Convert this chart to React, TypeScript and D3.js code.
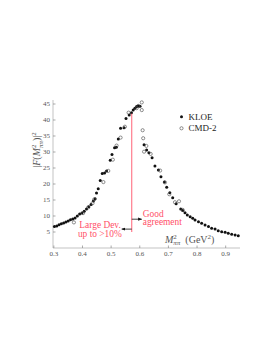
import * as d3 from "d3";
import React from "react";

// KLOE (filled)
const kloeX = [0.302, 0.310, 0.318, 0.326, 0.334, 0.342, 0.350, 0.358, 0.366, 0.374, 0.382, 0.390, 0.398, 0.406, 0.414, 0.422, 0.430, 0.438, 0.444, 0.449, 0.455, 0.462, 0.469, 0.477, 0.484, 0.497, 0.503, 0.512, 0.518, 0.525, 0.533, 0.545, 0.552, 0.563, 0.571, 0.577, 0.583, 0.589, 0.595, 0.601, 0.615, 0.624, 0.632, 0.643, 0.653, 0.665, 0.674, 0.686, 0.694, 0.705, 0.715, 0.727, 0.743, 0.750, 0.758, 0.766, 0.776, 0.785, 0.793, 0.805, 0.816, 0.828, 0.840, 0.851, 0.863, 0.874, 0.886, 0.898, 0.909, 0.921, 0.933, 0.944];
const kloeY = [6.7, 6.9, 7.3, 7.6, 7.8, 8.1, 8.4, 8.8, 9.1, 9.4, 10.0, 10.6, 10.9, 11.5, 12.2, 12.9, 13.6, 14.7, 15.4, 17.2, 18.5, 21.1, 23.3, 23.4, 24.1, 27.4, 29.2, 31.3, 31.5, 34.1, 37.4, 37.6, 40.5, 41.6, 42.3, 43.1, 43.7, 44.2, 44.4, 44.3, 32.3, 30.6, 29.8, 28.2, 25.6, 24.4, 22.3, 20.6, 19.0, 17.3, 15.7, 13.8, 12.2, 11.7, 11.0, 10.3, 9.8, 9.3, 8.75, 8.2, 7.7, 7.2, 6.7, 6.2, 5.9, 5.4, 5.1, 4.9, 4.6, 4.3, 4.1, 3.8];

// CMD-2 (open)
const cmdX = [0.370, 0.402, 0.420, 0.435, 0.441, 0.473, 0.490, 0.506, 0.519, 0.533, 0.548, 0.561, 0.589, 0.595, 0.607, 0.607, 0.610, 0.612, 0.615, 0.623, 0.638, 0.671, 0.688, 0.703, 0.723, 0.737, 0.750];
const cmdY = [8.0, 10.9, 12.7, 14.0, 15.2, 20.6, 24.1, 27.6, 32.0, 34.5, 37.9, 42.3, 43.7, 44.4, 45.5, 43.1, 36.8, 34.3, 30.1, 31.9, 29.4, 24.2, 20.5, 16.8, 14.3, 14.6, 11.9];

const xTicks = [0.3, 0.4, 0.5, 0.6, 0.7, 0.8, 0.9];
const yTicks = [5, 10, 15, 20, 25, 30, 35, 40, 45];

// annotation in data units
const splitX = 0.572;
const splitTop = 42;
const splitBottom = 5;
const goodArrowY = 9.0;
const badArrowY = 5.9;

const W = 273;
const H = 353;
const serif = "'Liberation Serif', 'Times New Roman', serif";
const red = "#ff5068";

export default function App() {
  const x = d3.scaleLinear().domain([0.297, 0.95]).range([53, 240]);
  const y = d3.scaleLinear().domain([0, 46.25]).range([248, 100]);
  const kloe = kloeX.map((v, i) => [v, kloeY[i]]);
  const cmd = cmdX.map((v, i) => [v, cmdY[i]]);
  const fmt = d3.format(".1f");

  return (
    <svg width={W} height={H} style={{ position: "absolute", left: 0, top: 0, background: "#fff" }} fontFamily={serif}>
      <defs>
        <marker id="ah" viewBox="0 0 10 10" refX="9" refY="5" markerWidth="5" markerHeight="5" orient="auto">
          <path d="M0,1 L10,5 L0,9 z" fill="#111" />
        </marker>
      </defs>

      {/* axes */}
      <line x1={x.range()[0]} x2={x.range()[0]} y1={y.range()[1]} y2={y.range()[0]} stroke="#aaa" strokeWidth={0.7} />
      <line x1={x.range()[0]} x2={x.range()[1]} y1={y.range()[0]} y2={y.range()[0]} stroke="#aaa" strokeWidth={0.7} />
      {yTicks.map(t => (
        <g key={"y" + t}>
          <line x1={x.range()[0]} x2={x.range()[0] + 2.5} y1={y(t)} y2={y(t)} stroke="#888" strokeWidth={0.7} />
          <text x={x.range()[0] - 3} y={y(t) + 2.4} textAnchor="end" fontSize={7} fill="#555">{t}</text>
        </g>
      ))}
      {xTicks.map(t => (
        <g key={"x" + t}>
          <line x1={x(t)} x2={x(t)} y1={y.range()[0]} y2={y.range()[0] - 2.5} stroke="#888" strokeWidth={0.7} />
          <text x={x(t)} y={256} textAnchor="middle" fontSize={7} fill="#555">{fmt(t)}</text>
        </g>
      ))}

      {/* axis titles */}
      <text transform="translate(40,150) rotate(-90)" textAnchor="middle" fontSize={10} fill="#555">
        |<tspan fontStyle="italic">F</tspan>(<tspan fontStyle="italic">M</tspan>
        <tspan fontSize={7} dy={-4}>2</tspan>
        <tspan fontSize={7} fontStyle="italic" dx={-3.5} dy={6.5}>ππ</tspan>
        <tspan dy={-2.5}>)|</tspan>
        <tspan fontSize={7} dy={-4}>2</tspan>
      </text>
      <text x={165} y={243} fontSize={10} fill="#555">
        <tspan fontStyle="italic">M</tspan>
        <tspan fontSize={7} dy={-4.5}>2</tspan>
        <tspan fontSize={7} fontStyle="italic" dx={-3.5} dy={6.5}>ππ</tspan>
        <tspan dx={5} dy={-2}>(GeV</tspan>
        <tspan fontSize={7} dy={-4}>2</tspan>
        <tspan dy={4}>)</tspan>
      </text>

      {/* data */}
      {kloe.map((d, i) => (
        <circle key={"k" + i} cx={x(d[0])} cy={y(d[1])} r={1.5} fill="#111" />
      ))}
      {cmd.map((d, i) => (
        <circle key={"c" + i} cx={x(d[0])} cy={y(d[1])} r={1.6} fill="none" stroke="#444" strokeWidth={0.6} />
      ))}

      {/* legend */}
      <circle cx={181.5} cy={116.7} r={1.5} fill="#111" />
      <text x={188.5} y={119.6} fontSize={9} fill="#222">KLOE</text>
      <circle cx={181.5} cy={128.3} r={1.6} fill="none" stroke="#444" strokeWidth={0.6} />
      <text x={188.5} y={131.2} fontSize={9} fill="#222">CMD-2</text>

      {/* annotation */}
      <line x1={x(splitX)} x2={x(splitX)} y1={y(splitTop)} y2={y(splitBottom)} stroke={red} strokeWidth={0.9} />
      <line x1={x(splitX)} x2={x(splitX) + 10} y1={y(goodArrowY)} y2={y(goodArrowY)} stroke="#111" strokeWidth={0.8} markerEnd="url(#ah)" />
      <line x1={x(splitX)} x2={x(splitX) - 10} y1={y(badArrowY)} y2={y(badArrowY)} stroke="#111" strokeWidth={0.8} markerEnd="url(#ah)" />
      <text x={x(splitX) + 11} y={216.7} fontSize={9.4} fill={red}>Good</text>
      <text x={x(splitX) + 11} y={225.2} fontSize={9.4} fill={red}>agreement</text>
      <text x={x(splitX) - 11} y={228} fontSize={9.4} fill={red} textAnchor="end">Large Dev.</text>
      <text x={x(splitX) - 10} y={236.8} fontSize={9.4} fill={red} textAnchor="end">up to &gt;10%</text>
    </svg>
  );
}
